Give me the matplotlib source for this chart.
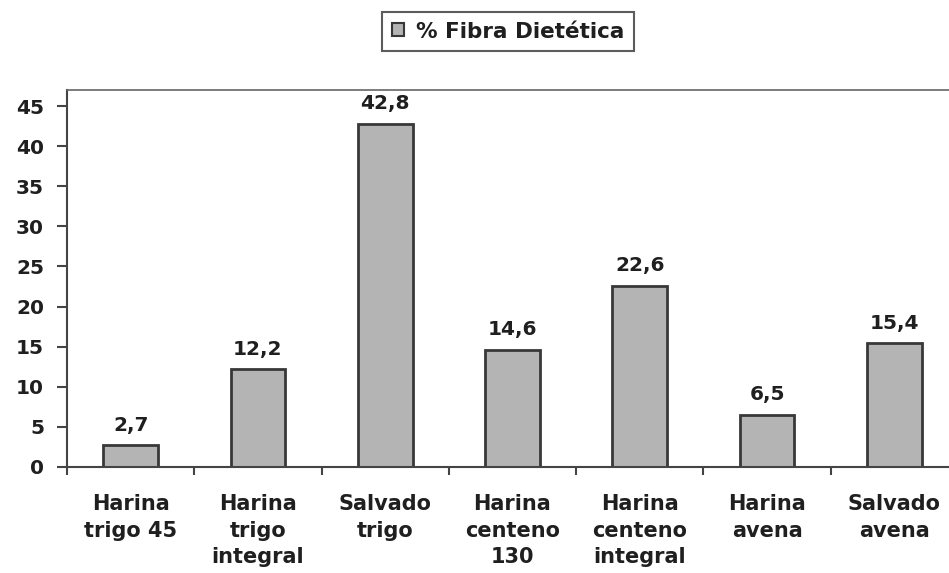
import matplotlib
matplotlib.use("Agg")
import matplotlib.pyplot as plt
from matplotlib.patches import Patch

categories = ["Harina\ntrigo 45", "Harina\ntrigo\nintegral", "Salvado\ntrigo",
              "Harina\ncenteno\n130", "Harina\ncenteno\nintegral", "Harina\navena",
              "Salvado\navena"]
values = [2.7, 12.2, 42.8, 14.6, 22.6, 6.5, 15.4]
value_labels = ["2,7", "12,2", "42,8", "14,6", "22,6", "6,5", "15,4"]
series_name = "% Fibra Dietética"
yticks = [0, 5, 10, 15, 20, 25, 30, 35, 40, 45]

W, H = 949, 573
fig = plt.figure(figsize=(W / 100, H / 100), dpi=100)
fig.patch.set_facecolor("white")

left, right, top, bottom = 67, 958, 90, 467
ax = fig.add_axes([left / W, 1 - bottom / H, (right - left) / W, (bottom - top) / H])

font = dict(family="DejaVu Sans", weight="bold", color="#1f1f1f")
bar_color = "#b4b4b4"
edge_color = "#383838"
axis_color = "#444444"

x = list(range(len(values)))
ax.bar(x, values, width=0.43, color=bar_color, edgecolor=edge_color, linewidth=2.0, zorder=2)

for xi, v, lab in zip(x, values, value_labels):
    ax.annotate(lab, (xi, v), xytext=(0, 7.5), textcoords="offset points",
                ha="center", va="bottom", fontsize=14.5, **font)

ax.set_xlim(-0.5, len(values) - 0.5)
ax.set_ylim(0, 47)
ax.set_yticks(yticks)
ax.set_yticklabels([str(t) for t in yticks], fontsize=14.5, **font)

# category ticks sit on the boundaries; labels are centred under each bar
ax.set_xticks([i - 0.5 for i in range(len(values) + 1)])
ax.set_xticklabels([])
ax.tick_params(axis="x", direction="out", length=6, width=1.5, color=axis_color)
ax.tick_params(axis="y", direction="out", length=7.5, width=1.5, color=axis_color, pad=9)
for xi, cat in zip(x, categories):
    ax.text(xi, -3.4, cat, ha="center", va="top", fontsize=15, linespacing=1.4,
            transform=ax.transData, **font)

ax.spines["right"].set_visible(False)
for side in ["left", "bottom", "top"]:
    ax.spines[side].set_color(axis_color)
    ax.spines[side].set_linewidth(1.5)
ax.spines["top"].set_color("#666666")
ax.spines["top"].set_linewidth(1.2)

handle = Patch(facecolor=bar_color, edgecolor=edge_color, linewidth=1.5)
leg = fig.legend([handle], [series_name], loc="center", bbox_to_anchor=(508 / W, 1 - 31.5 / H),
                 frameon=True, fancybox=False, handlelength=0.55, handleheight=0.55,
                 handletextpad=0.55, borderpad=0.45, borderaxespad=0,
                 prop=dict(family="DejaVu Sans", weight="bold", size=15.5))
leg.get_frame().set_edgecolor("#333333")
leg.get_frame().set_linewidth(1.5)
for t in leg.get_texts():
    t.set_color("#1f1f1f")

fig.savefig("out.png", dpi=100)
